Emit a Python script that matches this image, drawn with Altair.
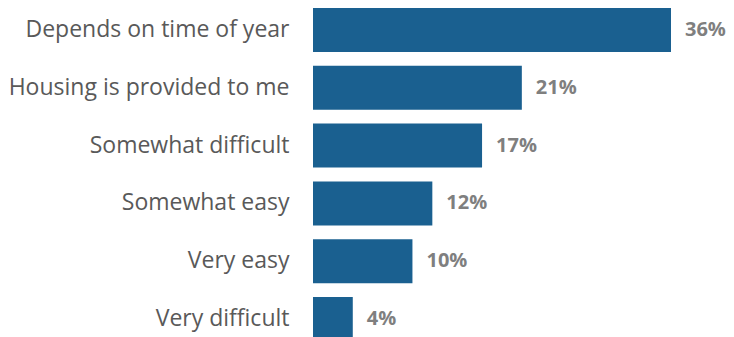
import altair as alt
import pandas as pd

categories = ["Depends on time of year", "Housing is provided to me", "Somewhat difficult",
              "Somewhat easy", "Very easy", "Very difficult"]
values = [36, 21, 17, 12, 10, 4]

df = pd.DataFrame({"cat": categories, "v": values})

y = alt.Y("cat:N", sort=categories, title=None,
          scale=alt.Scale(paddingInner=0.239, paddingOuter=0, range=[0, 333]),
          axis=alt.Axis(domain=False, ticks=False, labelPadding=24, labelFontSize=23,
                        labelFont="Open Sans", labelColor="#595959", labelLimit=400))
x = alt.X("v:Q", title=None, scale=alt.Scale(domain=[0, 36], nice=False), axis=None)

bars = alt.Chart(df).mark_bar(color="#1a6090", cornerRadius=0).encode(x=x, y=y)
text = alt.Chart(df).transform_calculate(label="datum.v + '%'").mark_text(
    align="left", baseline="middle", dx=14, dy=0, font="Open Sans", fontWeight="bold",
    fontSize=20, color="#7f7f7f").encode(x=x, y=y, text="label:N")

chart = (bars + text).properties(
    width=358, height=329,
    autosize=alt.AutoSizeParams(type="none"),
    padding={"left": 305, "top": 0, "right": 55, "bottom": 0},
).configure_view(stroke=None, clip=False)

chart.save("out.html", embed_options={"renderer": "svg", "actions": False})
